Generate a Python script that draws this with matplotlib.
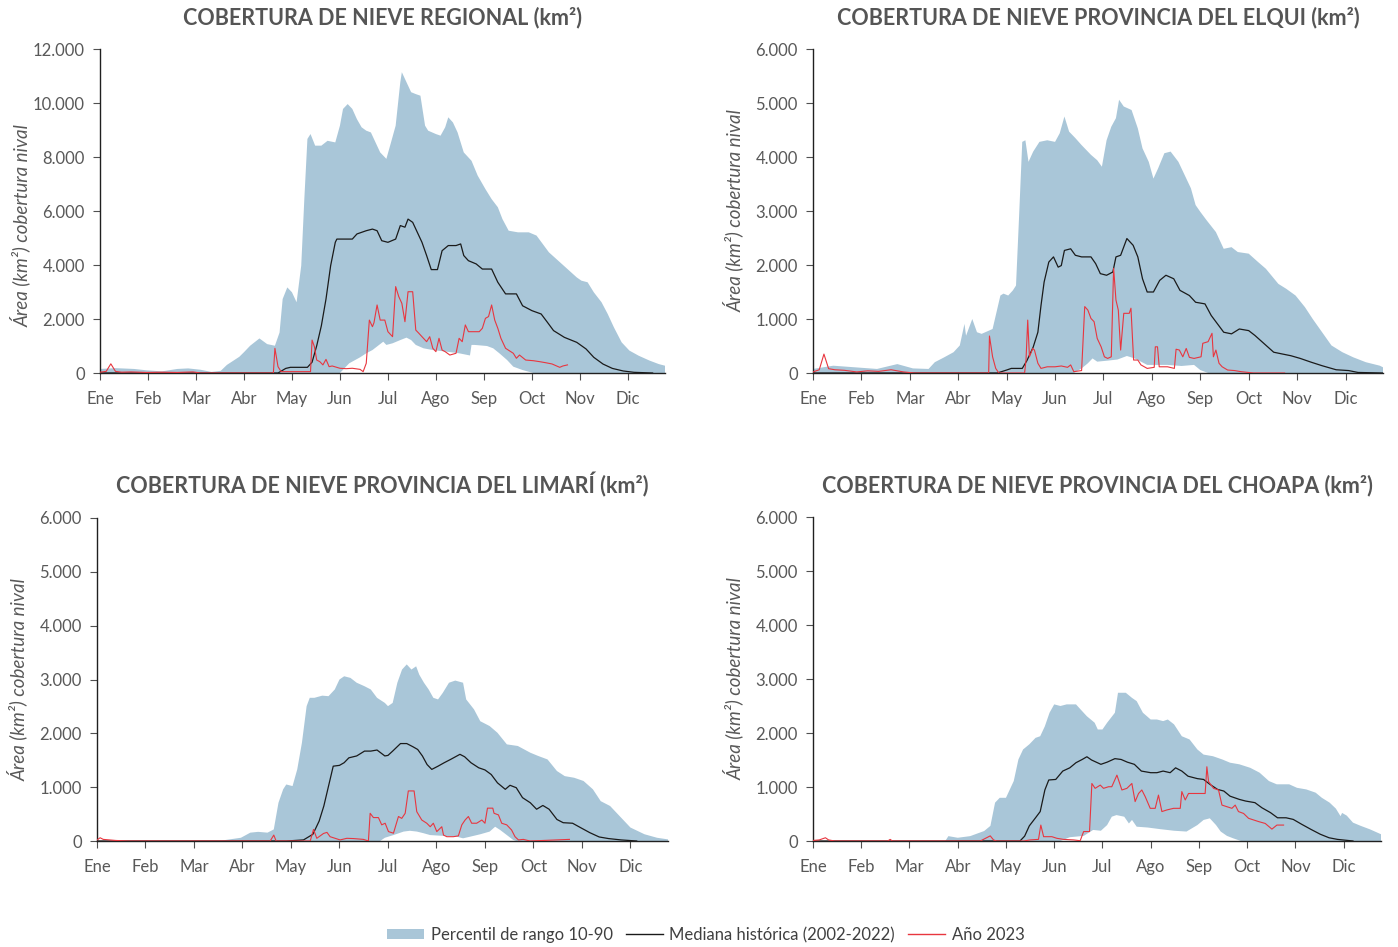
import numpy as np
import matplotlib
matplotlib.use("Agg")
import matplotlib.pyplot as plt
from matplotlib.patches import Patch
from matplotlib.lines import Line2D

# ---------------- DATA (day of year, km2) ----------------
MONTHS = ["Ene", "Feb", "Mar", "Abr", "May", "Jun", "Jul", "Ago", "Sep", "Oct", "Nov", "Dic"]
MONTH_TICKS = [0, 31, 62, 93, 124, 155, 186, 217, 248, 279, 310, 341]

# Regional
REG_P90_D = [0, 10, 22, 30, 40, 50, 57, 65, 72, 78, 82, 86, 90, 93, 97, 103, 108, 113, 116, 118,
             121, 124, 127, 130, 132, 134, 136, 139, 143, 147, 152, 155, 157, 160, 163, 166, 169, 172, 175, 178,
             181, 185, 188, 191, 194, 195, 198, 201, 204, 207, 210, 212, 217, 220, 223, 225, 228, 231, 235, 240,
             244, 249, 253, 257, 260, 264, 270, 277, 282, 286, 290, 296, 302, 308, 311, 315, 319, 324, 328, 332,
             337, 342, 348, 355, 361, 365]
REG_P90 = [150, 180, 150, 100, 60, 150, 170, 120, 40, 80, 300, 450, 600, 770, 1010, 1280, 1070, 1010, 1500, 2740,
           3170, 2990, 2620, 3975, 6440, 8670, 8850, 8420, 8420, 8600, 8540, 9160, 9780, 9960, 9780, 9400, 9100, 8975, 8910, 8540,
           8170, 7930, 8540, 9160, 10770, 11140, 10770, 10400, 10330, 10270, 9160, 8975, 8850, 8790, 9100, 9470, 9280, 8910, 8170, 7860,
           7310, 6810, 6440, 6140, 5700, 5270, 5210, 5210, 5090, 4780, 4470, 4160, 3850, 3540, 3420, 3360, 2990, 2620, 2185, 1690,
           1135, 830, 640, 460, 330, 270]
REG_P10_D = [0, 155, 161, 168, 172, 176, 183, 185, 189, 194, 198, 201, 204, 209, 215, 224, 232, 239, 240, 242,
             250, 254, 258, 263, 267, 273, 280, 365]
REG_P10 = [0, 0, 360, 580, 730, 850, 1160, 1040, 1100, 1220, 1310, 1220, 1040, 915, 850, 790, 730, 650, 1040, 1040,
           1000, 915, 730, 480, 235, 110, 0, 0]
REG_MED_D = [0, 115, 120, 123, 134, 137, 140, 143, 146, 149, 152, 153, 163, 166, 172, 176, 179, 182, 186, 191,
             194, 197, 199, 202, 205, 208, 211, 214, 218, 221, 225, 230, 233, 235, 238, 243, 247, 253, 257, 262,
             269, 273, 279, 285, 289, 293, 300, 308, 314, 319, 325, 331, 338, 345, 357]
REG_MED = [0, 0, 170, 210, 210, 400, 1010, 1750, 2740, 3975, 4840, 4960, 4960, 5150, 5270, 5330, 5270, 4900, 4840, 4960,
           5460, 5400, 5700, 5580, 5210, 4840, 4350, 3830, 3830, 4530, 4720, 4720, 4780, 4350, 4160, 4040, 3850, 3850, 3360, 2930,
           2930, 2490, 2310, 2185, 1880, 1570, 1320, 1135, 890, 580, 330, 170, 75, 25, 0]
REG_23_D = [0, 4, 7, 10, 14, 20, 30, 40, 50, 60, 65, 112, 113, 115, 117, 136, 137, 138.5, 140, 142,
            144, 146, 148, 150, 155, 159, 163, 168, 170, 172, 174, 176, 177, 179, 181, 184, 186, 189, 191, 193,
            195, 197, 199, 202, 204, 206, 208, 211, 213, 215, 217, 219, 221, 223, 226, 230, 232, 234, 236, 238,
            241, 245, 247, 249, 251, 253, 255, 257, 259, 262, 267, 269, 271, 275, 280, 284, 288, 292, 297, 299, 302]
REG_23 = [30, 60, 340, 60, 30, 40, 20, 30, 20, 40, 0, 0, 915, 235, 50, 50, 1220, 975, 480, 420,
          300, 505, 235, 260, 175, 160, 175, 135, 50, 360, 1960, 1715, 1865, 2520, 1960, 1960, 1530, 1345, 3200, 2830,
          2580, 1900, 3010, 3010, 1590, 1470, 1345, 1160, 1345, 915, 790, 1285, 850, 790, 665, 730, 1285, 1160, 1780, 1530,
          1530, 1530, 1655, 2025, 2090, 2520, 1960, 1655, 1285, 915, 730, 545, 665, 480, 455, 420, 380, 335, 210, 260, 300]

# Elqui
ELQ_P90_D = [0, 13, 27, 41, 54, 64, 74, 78, 84, 90, 94, 97, 98, 102, 105, 108, 115, 120, 122, 125,
             128, 130, 132, 134, 136, 138, 141, 145, 150, 155, 158, 161, 164, 168, 172, 178, 182, 185, 188, 191,
             194, 196, 199, 204, 208, 211, 215, 218, 221, 225, 229, 234, 238, 242, 245, 248, 252, 258, 263, 268,
             272, 279, 285, 290, 298, 303, 309, 315, 320, 326, 332, 339, 346, 354, 363, 365]
ELQ_P90 = [75, 135, 105, 75, 165, 85, 75, 200, 290, 385, 510, 910, 690, 1000, 755, 725, 815, 1435, 1470, 1435,
           1530, 1620, 2920, 4280, 4310, 3910, 4100, 4280, 4310, 4280, 4440, 4750, 4470, 4350, 4220, 4040, 3940, 3820, 4310, 4560,
           4720, 5060, 4935, 4870, 4530, 4160, 3910, 3600, 3790, 4070, 4100, 3910, 3665, 3420, 3110, 2985, 2830, 2610, 2300, 2330,
           2240, 2210, 2055, 1930, 1650, 1560, 1435, 1220, 1000, 755, 510, 385, 290, 200, 135, 105]
ELQ_P10_D = [0, 167, 172, 176, 179, 182, 189, 195, 201, 206, 210, 214, 220, 227, 236, 244, 248, 253, 365]
ELQ_P10 = [0, 0, 85, 180, 270, 210, 230, 250, 315, 270, 210, 150, 150, 150, 130, 150, 55, 0, 0]
ELQ_MED_D = [0, 118, 124, 127, 134, 137, 141, 144, 146, 148, 151, 154, 157, 159, 161, 165, 168, 172, 178, 181,
             184, 188, 192, 194, 197, 201, 205, 208, 211, 214, 218, 222, 226, 231, 235, 241, 245, 251, 255, 259,
             263, 268, 273, 279, 283, 289, 295, 300, 306, 312, 319, 326, 335, 343, 349, 365]
ELQ_MED = [0, 0, 55, 85, 85, 230, 480, 755, 1250, 1685, 2055, 2150, 1960, 1990, 2270, 2300, 2180, 2150, 2150, 2025,
           1840, 1810, 1870, 2150, 2180, 2490, 2365, 2150, 1745, 1500, 1500, 1715, 1810, 1745, 1530, 1435, 1310, 1280, 1065, 910,
           755, 725, 815, 785, 695, 540, 385, 355, 320, 270, 200, 135, 60, 45, 10, 0]
ELQ_23_D = [0, 4, 7, 10, 14, 20, 28, 35, 42, 50, 58, 65, 112.5, 113, 115, 117, 119, 135.5, 136.4, 137.5,
            138.6, 140.7, 141.8, 144, 146, 150, 155, 159, 163, 165, 167, 172, 174, 176, 178, 180, 182, 184.5, 186.6, 188.7,
            191, 192.5, 194, 195.5, 197, 199, 202.5, 203.6, 205.3, 208, 210, 214, 218.5, 219.2, 220.6, 221.7, 227, 231.4, 232.5, 234.6,
            236.8, 239, 241, 244, 248.5, 249.6, 253, 255.5, 256.4, 258, 260, 262, 265.5, 270, 274, 282, 302]
ELQ_23 = [20, 60, 350, 80, 60, 50, 20, 40, 30, 60, 20, 0, 0, 685, 300, 85, 0, 0, 240, 980,
          300, 455, 425, 180, 85, 115, 115, 130, 105, 150, 25, 45, 1230, 1165, 1010, 950, 640, 485, 300, 270,
          300, 1940, 1350, 1165, 425, 1105, 1105, 1200, 240, 240, 150, 85, 105, 485, 485, 115, 115, 85, 440, 425,
          300, 455, 290, 270, 300, 550, 580, 735, 300, 425, 180, 115, 55, 45, 25, 0, 0]

# Limari
LIM_P90_D = [0, 80, 92, 98, 103, 109, 113, 116, 119, 121, 125, 128, 131, 134, 136, 139, 144, 148, 152, 155,
             158, 162, 166, 171, 175, 179, 184, 186, 189, 192, 195, 198, 201, 204, 206, 209, 212, 215, 218, 221,
             225, 229, 234, 236, 241, 245, 251, 256, 262, 269, 277, 282, 288, 294, 299, 305, 311, 317, 322, 328,
             334, 341, 350, 358, 365]
LIM_P90 = [0, 10, 60, 155, 170, 155, 215, 710, 960, 1050, 1020, 1330, 1825, 2505, 2660, 2660, 2700, 2690, 2815, 3000,
           3060, 3030, 2940, 2875, 2815, 2660, 2565, 2505, 2565, 2940, 3185, 3280, 3185, 3245, 3090, 2940, 2815, 2660, 2630, 2750,
           2940, 2980, 2940, 2630, 2445, 2225, 2135, 2010, 1795, 1765, 1640, 1580, 1515, 1300, 1205, 1175, 1115, 960, 740, 650,
           465, 250, 125, 60, 30]
LIM_P10_D = [0, 181, 184, 189.5, 196, 200, 204.5, 208.7, 213, 221.5, 230, 234, 238.5, 245, 251, 254.5, 257.7, 262, 266, 268, 365]
LIM_P10 = [0, 0, 60, 110, 175, 190, 175, 145, 110, 95, 80, 50, 80, 125, 175, 265, 205, 110, 20, 0, 0]
LIM_MED_D = [0, 121, 132, 138, 142, 145, 148, 151, 155, 158, 161, 166, 171, 175, 179, 184, 186, 189, 194, 198,
             202, 205, 208, 211, 214, 218, 222, 226, 232, 235, 239, 244, 248, 252, 256, 261, 264, 268, 272, 277,
             281, 285, 289, 294, 298, 304, 309, 315, 321, 327, 335, 345]
LIM_MED = [0, 0, 20, 125, 370, 650, 1020, 1390, 1405, 1455, 1545, 1580, 1670, 1670, 1690, 1580, 1590, 1670, 1810, 1810,
           1750, 1700, 1580, 1420, 1330, 1390, 1455, 1515, 1610, 1565, 1455, 1360, 1320, 1235, 1080, 960, 1035, 990, 805, 710,
           590, 660, 590, 400, 340, 330, 250, 155, 75, 45, 20, 0]
LIM_23_D = [0, 2, 4, 8, 12, 20, 110.7, 113, 114.5, 136.3, 138.4, 140.5, 144.8, 147, 149, 152.2, 155.4, 159.7, 164, 170.3,
            173.5, 174.6, 176.7, 179.9, 182, 184.2, 186.3, 189.5, 192.7, 194.8, 197, 199, 202.7, 204.4, 207.6, 210.8, 213, 215, 217.2, 220.4,
            221.5, 223.6, 227.8, 231, 233.2, 235.3, 237.4, 239.5, 242.7, 246, 248, 249.6, 253, 253.8, 256.6, 258.7, 261.9, 265, 267.2, 269.4,
            272.5, 276.8, 302]
LIM_23 = [20, 60, 30, 20, 10, 0, 0, 110, 0, 0, 215, 50, 140, 160, 80, 50, 20, 50, 45, 30,
          0, 515, 435, 435, 300, 330, 175, 145, 455, 420, 515, 930, 930, 545, 390, 330, 265, 330, 175, 265,
          110, 80, 80, 95, 300, 390, 455, 330, 330, 390, 330, 610, 610, 515, 485, 330, 300, 205, 80, 20,
          30, 0, 30]

# Choapa
CHO_P90_D = [0, 85, 87, 93, 101, 110, 114, 117, 120, 124, 129, 132, 135, 139, 143, 146, 149, 152, 155, 159,
             163, 169, 172, 176, 181, 183, 186, 189, 194, 196, 201, 205, 208, 212, 217, 221, 225, 228, 232, 237,
             242, 247, 251, 257, 263, 268, 274, 281, 287, 293, 298, 306, 311, 317, 323, 327, 332, 336, 339, 340,
             343, 347, 352, 358, 365]
CHO_P90 = [0, 0, 90, 60, 90, 185, 280, 710, 800, 800, 1110, 1510, 1695, 1790, 1910, 1940, 2125, 2375, 2530, 2500,
           2530, 2530, 2435, 2310, 2190, 2065, 2065, 2190, 2375, 2745, 2745, 2650, 2590, 2375, 2250, 2250, 2220, 2250, 2160, 1940,
           1880, 1695, 1600, 1570, 1510, 1450, 1420, 1355, 1265, 1110, 1050, 1050, 985, 955, 895, 800, 710, 600, 460, 520,
           470, 340, 280, 215, 125]
CHO_P10_D = [0, 159, 165, 174, 180, 185, 189, 192, 195, 200, 203, 205, 208, 215, 223, 232, 240, 247, 251, 255,
             259, 262, 266, 270, 275, 365]
CHO_P10 = [0, 0, 70, 95, 205, 190, 295, 450, 480, 450, 325, 390, 265, 250, 220, 190, 175, 295, 390, 420,
           295, 175, 95, 50, 0, 0]
CHO_MED_D = [0, 133, 136, 139, 143, 146, 149, 151.5, 156, 160.5, 165, 169, 173, 176, 179, 185, 189, 194, 198, 202,
             206.5, 211, 217, 221, 225, 229.5, 233, 237, 241, 247, 251, 255, 260, 264, 268, 274, 278, 284, 288.5, 294,
             298.5, 304, 308.6, 314, 320, 326, 331.6, 337, 347]
CHO_MED = [0, 0, 90, 280, 430, 545, 945, 1130, 1140, 1295, 1355, 1450, 1510, 1560, 1500, 1420, 1460, 1525, 1510, 1460,
           1420, 1295, 1265, 1265, 1295, 1265, 1355, 1295, 1200, 1155, 1140, 1050, 955, 925, 830, 770, 740, 710, 615, 525,
           430, 430, 400, 310, 215, 125, 60, 30, 0]
CHO_23_D = [0, 4, 8, 10, 14, 48, 49.6, 51, 107.5, 113.9, 116, 118, 135.3, 139.6, 144.9, 146.4, 148.2, 153.5, 156.7, 161,
            167.4, 171.7, 173.9, 177.7, 179.2, 181.3, 184.6, 186.7, 189.9, 192, 195.3, 198.5, 201.7, 204.9, 207, 209.2, 211.3, 213.5, 216.7, 219.9,
            222, 224.2, 227.4, 231.7, 236, 237, 239.2, 241.3, 245.6, 249.9, 252, 253.1, 254.2, 257.4, 260.6, 262.8, 266, 269.2, 271.3, 273.4,
            276.7, 279.9, 283.1, 286.3, 290.6, 294.9, 298.1, 302.4]
CHO_23 = [10, 20, 60, 20, 0, 0, 30, 0, 0, 95, 20, 0, 0, 20, 30, 295, 80, 80, 50, 30,
          20, 5, 175, 175, 1065, 975, 1035, 975, 1005, 1005, 1220, 945, 975, 1065, 730, 880, 945, 820, 605, 605,
          850, 545, 575, 605, 605, 915, 760, 880, 880, 880, 880, 1375, 1100, 975, 945, 665, 635, 605, 665, 545,
          510, 420, 390, 360, 325, 220, 295, 295]

TITLES = ["COBERTURA DE NIEVE REGIONAL (km²)",
          "COBERTURA DE NIEVE PROVINCIA DEL ELQUI (km²)",
          "COBERTURA DE NIEVE PROVINCIA DEL LIMARÍ (km²)",
          "COBERTURA DE NIEVE PROVINCIA DEL CHOAPA (km²)"]
YLABEL = "Área (km²) cobertura nival"
LEGEND_LABELS = ["Percentil de rango 10-90", "Mediana histórica (2002-2022)", "Año 2023"]

# ---------------- STYLE ----------------
BAND = "#a9c6d8"
MED_C = "#1a1a1a"
RED_C = "#e8363f"
TXT = "#595959"
FONT = "Lato"

W, H = 1398, 947
fig = plt.figure(figsize=(W / 100, H / 100), dpi=100)


def rect(l, r, t, b):
    return [l / W, 1 - b / H, (r - l) / W, (b - t) / H]


panels = [
    dict(rect=rect(100, 665, 49, 373), ymax=12000, step=2000, ylab_dy=-15,
         p90=(REG_P90_D, REG_P90), p10=(REG_P10_D, REG_P10), med=(REG_MED_D, REG_MED), y23=(REG_23_D, REG_23)),
    dict(rect=rect(813, 1383, 49, 373), ymax=6000, step=1000, ylab_dy=0,
         p90=(ELQ_P90_D, ELQ_P90), p10=(ELQ_P10_D, ELQ_P10), med=(ELQ_MED_D, ELQ_MED), y23=(ELQ_23_D, ELQ_23)),
    dict(rect=rect(97, 668, 518, 841), ymax=6000, step=1000, ylab_dy=0,
         p90=(LIM_P90_D, LIM_P90), p10=(LIM_P10_D, LIM_P10), med=(LIM_MED_D, LIM_MED), y23=(LIM_23_D, LIM_23)),
    dict(rect=rect(813, 1381, 517, 841), ymax=6000, step=1000, ylab_dy=0,
         p90=(CHO_P90_D, CHO_P90), p10=(CHO_P10_D, CHO_P10), med=(CHO_MED_D, CHO_MED), y23=(CHO_23_D, CHO_23)),
]

for i, p in enumerate(panels):
    ax = fig.add_axes(p["rect"])
    d90, v90 = p["p90"]
    d10, v10 = p["p10"]
    xs = list(d90) + list(d10)[::-1]
    ys = list(v90) + list(v10)[::-1]
    ax.fill(xs, ys, color=BAND, lw=0, zorder=1)
    ax.plot(p["med"][0], p["med"][1], color=MED_C, lw=0.9, zorder=2)
    ax.plot(p["y23"][0], p["y23"][1], color=RED_C, lw=0.8, zorder=3)

    ax.set_xlim(0, 365)
    ax.set_ylim(0, p["ymax"])
    yt = np.arange(0, p["ymax"] + 1, p["step"])
    ax.set_yticks(yt)
    ax.set_yticklabels([f"{int(v):,}".replace(",", ".") for v in yt])
    ax.set_xticks(MONTH_TICKS)
    ax.set_xticklabels(MONTHS)
    for s in ["top", "right"]:
        ax.spines[s].set_visible(False)
    for s in ["left", "bottom"]:
        ax.spines[s].set_color("#202020")
        ax.spines[s].set_linewidth(1.0)
    ax.tick_params(axis="both", direction="out", length=5, width=0.8, color="#505050",
                   labelcolor=TXT, labelsize=12)
    ax.tick_params(axis="x", pad=8)
    ax.tick_params(axis="y", pad=6)
    for lab in ax.get_xticklabels() + ax.get_yticklabels():
        lab.set_fontfamily(FONT)
    ax.set_title(TITLES[i], fontsize=15.5, fontweight="bold", color="#555555", family=FONT, pad=18)
    ax.set_ylabel(YLABEL, fontsize=13.5, style="italic", color=TXT, family=FONT)
    wpx = p["rect"][2] * W
    hpx = p["rect"][3] * H
    ax.yaxis.set_label_coords(-69 / wpx, 0.5 + p["ylab_dy"] / hpx)

handles = [Patch(facecolor=BAND, edgecolor="none"),
           Line2D([0], [0], color=MED_C, lw=1.0),
           Line2D([0], [0], color=RED_C, lw=1.0)]
leg = fig.legend(handles, LEGEND_LABELS, loc="center", bbox_to_anchor=(706 / W, 1 - 935 / H),
                 ncol=3, frameon=False, handlelength=2.2, handleheight=0.6, handletextpad=0.4,
                 columnspacing=0.8, prop={"family": FONT, "size": 12})
for t in leg.get_texts():
    t.set_color("#404040")

fig.savefig("out.png", dpi=100)
